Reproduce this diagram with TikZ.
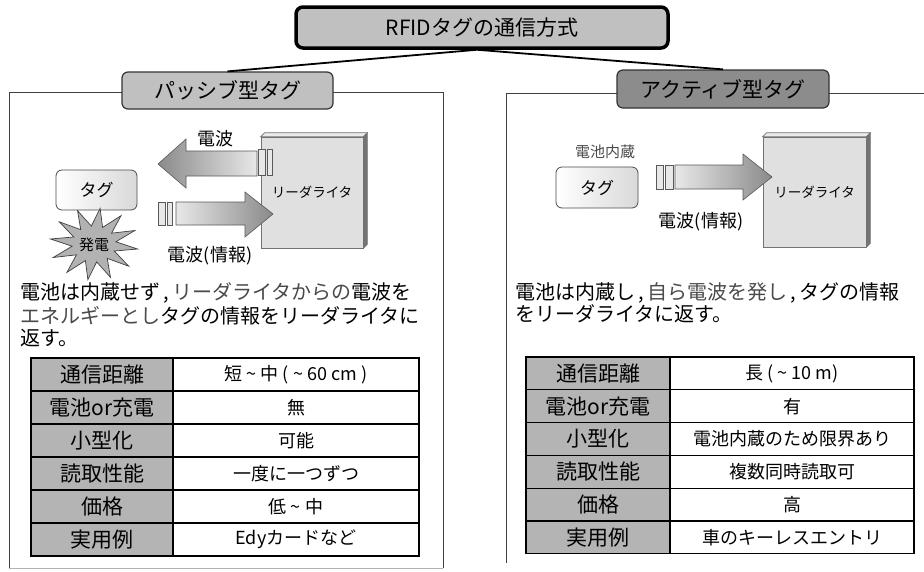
\documentclass[tikz,border=0pt]{standalone}
\usepackage{fontspec}
\setmainfont{Noto Sans CJK JP}
\definecolor{lgray}{HTML}{C0C0C0}
\definecolor{dgray}{HTML}{8C8C8C}
\definecolor{hdrgray}{HTML}{B4B4B4}
\definecolor{txtgray}{HTML}{4A4A4A}
\definecolor{arrdark}{HTML}{8A8A8A}
\definecolor{arrlight}{HTML}{E8E8E8}
\tikzset{
  fs/.style={font=\fontsize{#1}{#1}\selectfont},
  panelline/.style={draw=black!75, line width=1pt},
  titlebox/.style={draw=black, line width=3.5pt, rounded corners=7pt, fill=lgray, inner sep=0pt, fs=21},
  labbox/.style={draw=black!80, line width=1.2pt, rounded corners=6pt, inner sep=0pt, fs=21},
  link/.style={draw=black, line width=1.8pt},
  reader/.style={draw=black!55, line width=0.6pt, fill=black!12, inner sep=0pt, fs=13.5},
  readerside/.style={draw=black!55, line width=0.6pt, fill=black!55},
  readertop/.style={draw=black!55, line width=0.6pt, fill=black!8},
  tagbox/.style={draw=black!70, line width=0.8pt, rounded corners=6pt, left color=white, right color=black!15, inner sep=0pt, fs=17},
  arrowbody/.style={draw=black!65, line width=0.6pt},
  bar/.style={draw=black!65, line width=0.6pt, fill=arrlight},
  burst/.style={draw=black!75, line width=0.7pt, fill=black!30},
  hdr/.style={draw=black, line width=1.2pt, fill=hdrgray, inner sep=0pt, fs=21},
  val/.style={draw=black, line width=1.2pt, fill=white, inner sep=0pt, fs=18},
  expl/.style={inner sep=0pt, anchor=west, fs=20},
  small/.style={inner sep=0pt, fs=18}
}
\begin{document}
\begin{tikzpicture}[x=1pt,y=-1pt]
\useasboundingbox[fill=white] (0,0) rectangle (924,571);

% panels
\draw[panelline] (9,92) -- (9,568);
\draw[panelline] (443,92) -- (443,568);
\draw[draw=black!30, line width=1pt] (9,568) -- (443,568);
\draw[panelline] (9,92) -- (443,92);
\draw[panelline] (506,563) -- (506,93) -- (924,93);

% title and labels
\node[titlebox, minimum width=372pt, minimum height=41pt] (title) at (482,27.5) {RFIDタグの通信方式};
\node[labbox, fill=lgray, minimum width=211pt, minimum height=37pt] (lp) at (227.5,90.5) {パッシブ型タグ};
\node[labbox, fill=dgray, minimum width=212pt, minimum height=38pt] (la) at (723,89) {アクティブ型タグ};
\draw[link] ([xshift=-5pt]title.south) -- (lp.north);
\draw[link] ([xshift=-5pt]title.south) -- (la.north);

% ---------- left drawing ----------
\node[reader, minimum width=102pt, minimum height=111pt] (rdL) at (312,192.5) {リーダライタ};
\draw[readertop] (rdL.north west) -- ++(4,-4) -- ([shift={(4,-4)}]rdL.north east) -- (rdL.north east) -- cycle;
\draw[readerside] (rdL.north east) -- ++(4,-4) -- ([shift={(4,-4)}]rdL.south east) -- (rdL.south east) -- cycle;

% upper arrow (to the left)
\draw[arrowbody, left color=arrdark, right color=arrlight]
  (158,164) -- (186,139) -- (186,151) -- (257,151) -- (257,176) -- (186,176) -- (186,188) -- cycle;
\draw[bar] (258,149) rectangle (265,175);
\draw[bar] (267,149) rectangle (272,175);
\node[small] (wL1) at (215,139) {電波};

% tag and burst
\node[tagbox, minimum width=81pt, minimum height=40pt] (tagL) at (96.5,190) {タグ};
\draw[burst] plot[samples at={0,...,23}, variable=\t]
  ({94+(mod(\t,2)==0?44:22)*cos(15*\t+8)}, {244+(mod(\t,2)==0?36:18)*sin(15*\t+8)}) -- cycle;
\node[inner sep=0pt, fs=15] (gen) at (94,245) {発電};

% lower arrow (to the right)
\draw[bar] (158,202) rectangle (165,225);
\draw[bar] (167,202) rectangle (172,225);
\draw[arrowbody, left color=arrlight, right color=arrdark]
  (176,202) -- (245,202) -- (245,192) -- (273,214) -- (245,237) -- (245,225) -- (176,225) -- cycle;
\node[small] (wL2) at (210,256) {電波(情報)};

% left explanation
\node[expl] (eL1) at (20,293) {電池は内蔵せず\,,\,{\color{txtgray}リーダライタからの}電波を};
\node[expl] (eL2) at (20,316) {{\color{txtgray}エネルギーとし}タグの情報をリーダライタに};
\node[expl] (eL3) at (20,338) {返す。};

% left table
\foreach \i/\h/\v in {1/通信距離/{短 \textasciitilde{} 中 ( \textasciitilde{} 60 cm )},
                     2/電池or充電/無,
                     3/小型化/可能,
                     4/読取性能/一度に一つずつ,
                     5/価格/{低 \textasciitilde{} 中},
                     6/実用例/Edyカードなど}{
  \node[hdr, minimum width=142pt, minimum height=33pt] (Lh\i) at (102,{358+(\i-0.5)*33}) {\h};
  \node[val, minimum width=246pt, minimum height=33pt] (Lv\i) at (296,{358+(\i-0.5)*33}) {\v};
}

% ---------- right drawing ----------
\node[reader, minimum width=103pt, minimum height=110pt] (rdR) at (814.5,192) {リーダライタ};
\draw[readertop] (rdR.north west) -- ++(4,-4) -- ([shift={(4,-4)}]rdR.north east) -- (rdR.north east) -- cycle;
\draw[readerside] (rdR.north east) -- ++(4,-4) -- ([shift={(4,-4)}]rdR.south east) -- (rdR.south east) -- cycle;

\node[inner sep=0pt, fs=15, text=txtgray] (batt) at (605,152) {電池内蔵};
\node[tagbox, minimum width=82pt, minimum height=41pt] (tagR) at (597,187.5) {タグ};
\draw[bar] (656,165) rectangle (663,189);
\draw[bar] (665,165) rectangle (673,189);
\draw[arrowbody, left color=arrlight, right color=arrdark]
  (675,165) -- (743,165) -- (743,154) -- (772,177) -- (743,200) -- (743,189) -- (675,189) -- cycle;
\node[small] (wR) at (701,222) {電波(情報)};

% right explanation
\node[expl] (eR1) at (515,293) {電池は内蔵し\,,\,{\color{txtgray}自ら電波を発し}\,,\,タグの情報};
\node[expl] (eR2) at (515,314) {をリーダライタに返す。};

% right table
\foreach \i/\h/\v in {1/通信距離/{長 ( \textasciitilde{} 10 m)},
                     2/電池or充電/有,
                     3/小型化/電池内蔵のため限界あり,
                     4/読取性能/複数同時読取可,
                     5/価格/高,
                     6/実用例/車のキーレスエントリ}{
  \node[hdr, minimum width=144pt, minimum height=32.8pt] (Rh\i) at (598,{357+(\i-0.5)*32.8}) {\h};
  \node[val, minimum width=244pt, minimum height=32.8pt] (Rv\i) at (792,{357+(\i-0.5)*32.8}) {\v};
}
\end{tikzpicture}
\end{document}
